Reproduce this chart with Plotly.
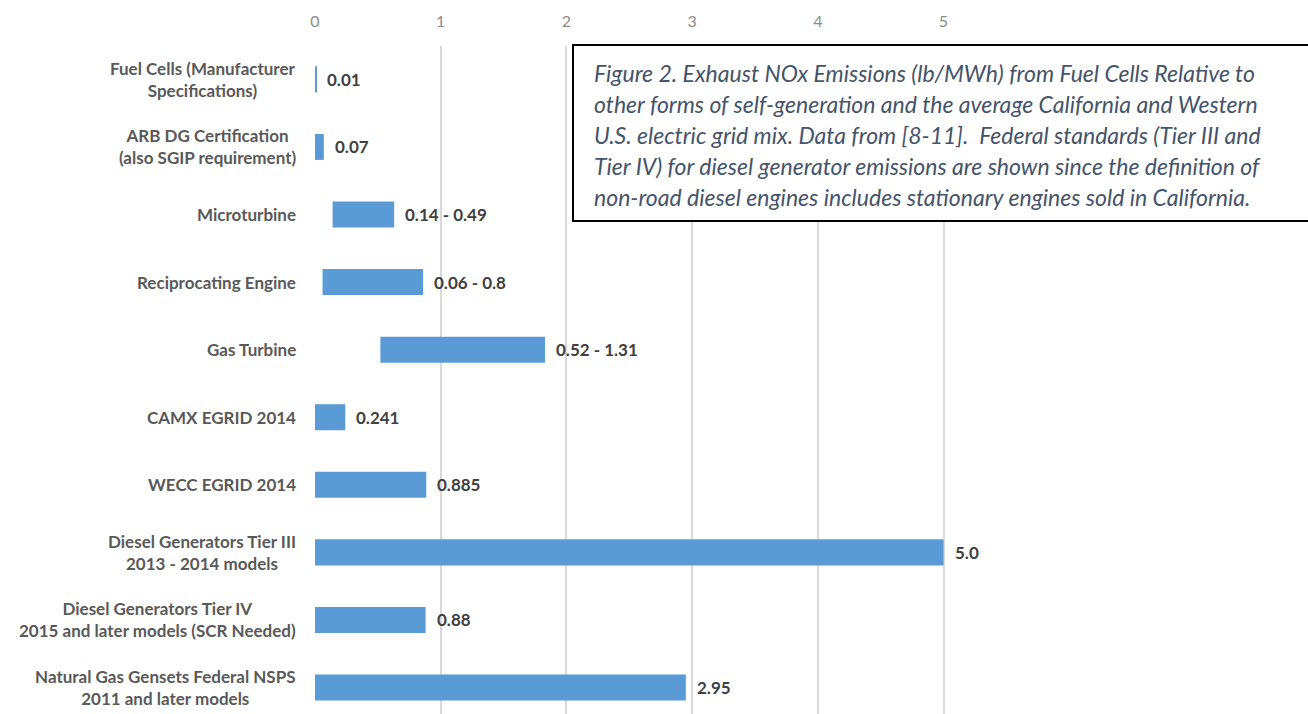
import plotly.graph_objects as go

categories = [
    "Fuel Cells (Manufacturer<br>Specifications)",
    "ARB DG Certification<br>(also SGIP requirement)",
    "Microturbine",
    "Reciprocating Engine",
    "Gas Turbine",
    "CAMX EGRID 2014",
    "WECC EGRID 2014",
    "Diesel Generators Tier III<br>2013 - 2014 models",
    "Diesel Generators Tier IV<br>2015 and later models (SCR Needed)",
    "Natural Gas Gensets Federal NSPS<br>2011 and later models",
]
low_values = [0, 0, 0.14, 0.06, 0.52, 0, 0, 0, 0, 0]
high_values = [0.01, 0.07, 0.49, 0.8, 1.31, 0.241, 0.885, 5.0, 0.88, 2.95]
value_labels = ["0.01", "0.07", "0.14 - 0.49", "0.06 - 0.8", "0.52 - 1.31",
                "0.241", "0.885", "5.0", "0.88", "2.95"]
x_ticks = [0, 1, 2, 3, 4, 5]

caption_lines = [
    "Figure 2. Exhaust NOx Emissions (lb/MWh) from Fuel Cells Relative to",
    "other forms of self-generation and the average California and Western",
    "U.S. electric grid mix. Data from [8-11].  Federal standards (Tier III and",
    "Tier IV) for diesel generator emissions are shown since the definition of",
    "non-road diesel engines includes stationary engines sold in California.",
]

W, H = 1308, 714
ML, MT = 315, 46
PW, PH = W - ML, H - MT
PX_PER_UNIT = 125.7


def px_x(px):
    return (px - ML) / PW


def px_y(py):
    return (H - py) / PH


fig = go.Figure()
fig.add_trace(go.Bar(
    y=categories,
    x=high_values,
    base=low_values,
    orientation="h",
    width=0.385,
    marker=dict(color="#5B9BD5", line=dict(width=0)),
    hoverinfo="skip",
))

annotations = []
for cat, lo, hi, lab in zip(categories, low_values, high_values, value_labels):
    annotations.append(dict(
        x=lo + hi, y=cat, xref="x", yref="y", text=lab, showarrow=False,
        xanchor="left", yanchor="middle", xshift=9,
        font=dict(family="Lato", size=17, color="#404040", weight="bold"),
    ))
    annotations.append(dict(
        x=0, y=cat, xref="paper", yref="y", text=cat, showarrow=False,
        xanchor="right", yanchor="middle", align="center", xshift=-17,
        font=dict(family="Lato", size=17, color="#595959", weight="bold"),
    ))

cap_y = [72.7, 104, 135, 166.5, 197]
for line, cy in zip(caption_lines, cap_y):
    annotations.append(dict(
        x=px_x(592), y=px_y(cy), xref="paper", yref="paper", text=line,
        showarrow=False, xanchor="left", yanchor="middle",
        font=dict(family="Lato", size=23, color="#44546A", style="italic"),
    ))

fig.add_shape(type="rect", xref="paper", yref="paper",
              x0=px_x(573), x1=px_x(1314), y0=px_y(221), y1=px_y(45),
              line=dict(color="#000000", width=2), fillcolor="white", layer="above")

fig.update_layout(
    width=W, height=H,
    margin=dict(l=ML, r=0, t=MT, b=0, pad=0),
    plot_bgcolor="white", paper_bgcolor="white",
    showlegend=False,
    annotations=annotations,
    xaxis=dict(
        side="top", range=[0, PW / PX_PER_UNIT], tickvals=x_ticks,
        ticktext=[str(t) for t in x_ticks],
        showgrid=True, gridcolor="#D9D9D9", gridwidth=1.5, zeroline=False,
        ticks="outside", ticklen=12, tickcolor="rgba(0,0,0,0)",
        tickfont=dict(family="Lato", size=16, color="#8C8C8C"),
        showline=False, fixedrange=True,
    ),
    yaxis=dict(
        type="category", categoryorder="array", categoryarray=categories,
        range=[9.392, -0.494], showticklabels=False, showgrid=False,
        zeroline=False, showline=False, ticks="",
    ),
)

fig.write_html("out.html")
